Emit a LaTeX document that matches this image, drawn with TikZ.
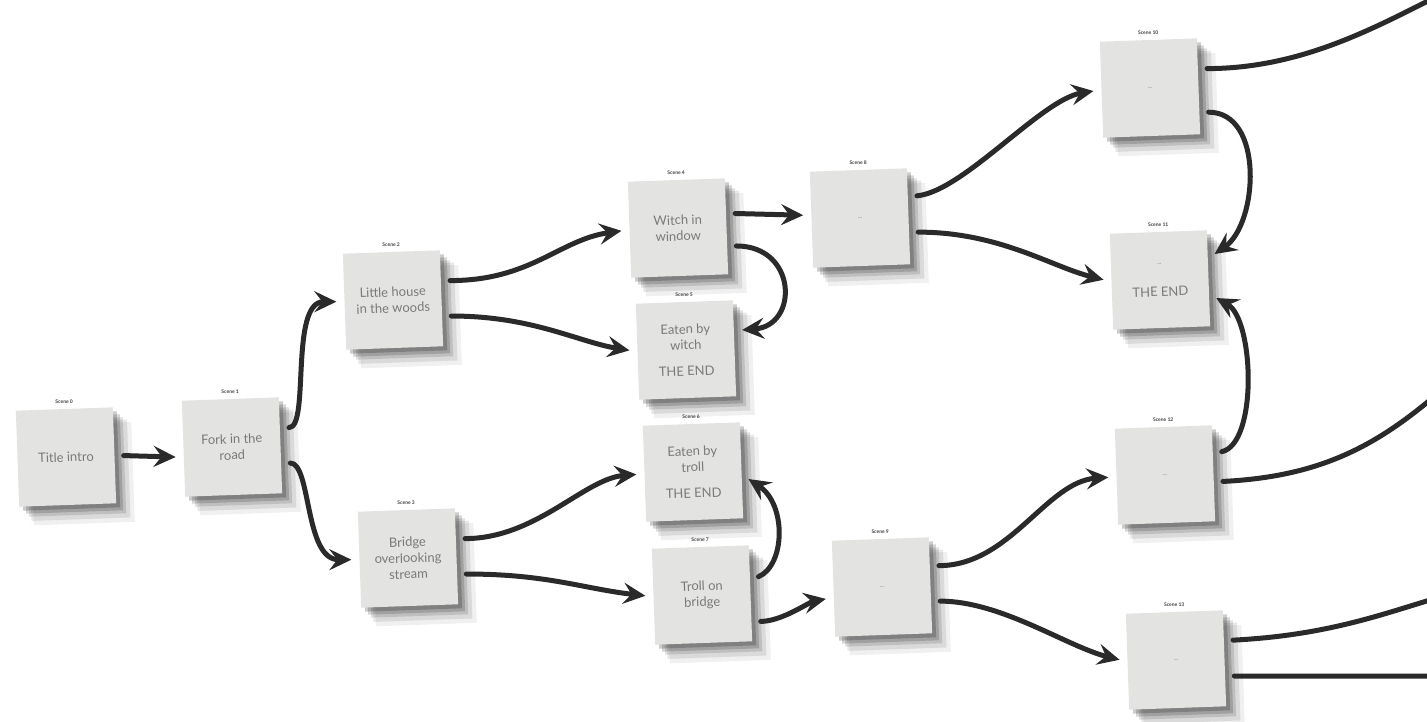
\documentclass[tikz,border=0pt]{standalone}
\usepackage{fontspec}
\setmainfont{Lato}
\usetikzlibrary{arrows.meta,shadows}
\definecolor{cardfill}{HTML}{E3E3E1}
\definecolor{cardtext}{HTML}{7A7A7A}
\definecolor{arrowc}{HTML}{2A2A2A}
\tikzset{
  card/.style={rectangle, minimum width=97pt, minimum height=96pt, fill=cardfill,
    text=cardtext, align=center, font=\fontsize{13}{16}\selectfont, inner sep=4pt,
    drop shadow={shadow xshift=16pt, shadow yshift=-16pt, shadow scale=1.04, opacity=0.06, fill=black},
    drop shadow={shadow xshift=13pt, shadow yshift=-13pt, shadow scale=1.02, opacity=0.09, fill=black},
    drop shadow={shadow xshift=10pt, shadow yshift=-10pt, opacity=0.12, fill=black},
    drop shadow={shadow xshift=7pt, shadow yshift=-7pt, opacity=0.16, fill=black},
    drop shadow={shadow xshift=4pt, shadow yshift=-4pt, opacity=0.2, fill=black}},
  scenelbl/.style={font=\bfseries\fontsize{5}{6}\selectfont, text=black!75, inner sep=1pt},
  conn/.style={line width=5pt, draw=arrowc, line cap=round,
    -{Stealth[length=22pt,width=21pt,inset=8pt]}, shorten <=9pt, shorten >=8pt},
  wire/.style={line width=5pt, draw=arrowc, line cap=round, shorten <=9pt}
}
\begin{document}
\begin{tikzpicture}[x=1pt,y=-1pt]
\useasboundingbox[fill=white] (0,0) rectangle (1427,721);

\node[card, rotate=2, label={[scenelbl,label distance=4pt]above:Scene 0}] (s0) at (66,457) {Title intro};
\node[card, rotate=2, label={[scenelbl,label distance=4pt]above:Scene 1}] (s1) at (232,447) {Fork in the\\road};
\node[card, rotate=2, label={[scenelbl,label distance=4pt]above:Scene 2}] (s2) at (393,300) {Little house\\in the woods};
\node[card, rotate=2, label={[scenelbl,label distance=4pt]above:Scene 3}] (s3) at (408,558) {Bridge\\overlooking\\stream};
\node[card, rotate=2, label={[scenelbl,label distance=4pt]above:Scene 4}] (s4) at (678,228) {Witch in\\window};
\node[card, rotate=2, label={[scenelbl,label distance=4pt]above:Scene 5}] (s5) at (686,350) {Eaten by\\witch\\[10pt]THE END};
\node[card, rotate=2, label={[scenelbl,label distance=4pt]above:Scene 6}] (s6) at (693,472) {Eaten by\\troll\\[10pt]THE END};
\node[card, rotate=2, label={[scenelbl,label distance=4pt]above:Scene 7}] (s7) at (702,595) {Troll on\\bridge};
\node[card, rotate=2, label={[scenelbl,label distance=4pt]above:Scene 8}] (s8) at (860,218) {\fontsize{6}{7}\selectfont ...};
\node[card, rotate=2, label={[scenelbl,label distance=4pt]above:Scene 9}] (s9) at (882,587) {\fontsize{6}{7}\selectfont ...};
\node[card, rotate=2, label={[scenelbl,label distance=4pt]above:Scene 10}] (s10) at (1150,88) {\fontsize{6}{7}\selectfont ...};
\node[card, rotate=2, label={[scenelbl,label distance=4pt]above:Scene 11}] (s11) at (1160,280) {{\fontsize{6}{7}\selectfont ...}\\[16pt]THE END};
\node[card, rotate=2, label={[scenelbl,label distance=4pt]above:Scene 12}] (s12) at (1165,475) {\fontsize{6}{7}\selectfont ...};
\node[card, rotate=2, label={[scenelbl,label distance=4pt]above:Scene 13}] (s13) at (1176,660) {\fontsize{6}{7}\selectfont ...};

\coordinate (e10) at (1430,0);
\coordinate (e12) at (1430,400);
\coordinate (e13a) at (1430,600);
\coordinate (e13b) at (1430,676);

\draw[conn] (s0.east) -- (s1.190);
\draw[conn] (s1.20) .. controls +(30,0) and +(-55,0) .. (s2.west);
\draw[conn] (s1.-20) .. controls +(30,0) and +(-55,0) .. (s3.west);
\draw[conn] (s2.20) .. controls +(90,0) and +(-70,10) .. (s4.west);
\draw[conn] (s2.-20) .. controls +(90,0) and +(-60,-10) .. (s5.west);
\draw[conn] (s4.15) -- (s8.175);
\draw[conn] (s4.-22) .. controls +(70,0) and +(65,-5) .. (s5.20);
\draw[conn] (s3.20) .. controls +(80,0) and +(-60,5) .. (s6.west);
\draw[conn] (s3.-20) .. controls +(90,0) and +(-70,-8) .. (s7.west);
\draw[conn] (s7.15) .. controls +(35,-15) and +(45,30) .. (s6.-5);
\draw[conn] (s7.-30) .. controls +(30,0) and +(-25,5) .. (s9.190);
\draw[conn] (s8.22) .. controls +(55,-5) and +(-60,10) .. (s10.west);
\draw[conn] (s8.-18) .. controls +(90,0) and +(-60,-15) .. (s11.west);
\draw[conn] (s10.-28) .. controls +(65,0) and +(50,-35) .. (s11.22);
\draw[conn] (s12.22) .. controls +(45,-10) and +(45,25) .. (s11.-18);
\draw[conn] (s9.22) .. controls +(80,0) and +(-70,5) .. (s12.west);
\draw[conn] (s9.-18) .. controls +(70,0) and +(-60,-15) .. (s13.west);

\draw[wire] (s10.20) .. controls +(100,0) and +(-60,30) .. (e10);
\draw[wire] (s12.-10) .. controls +(100,-5) and +(-60,50) .. (e12);
\draw[wire] (s13.20) .. controls +(100,-5) and +(-50,15) .. (e13a);
\draw[wire] (s13.-20) -- (e13b);
\end{tikzpicture}
\end{document}
